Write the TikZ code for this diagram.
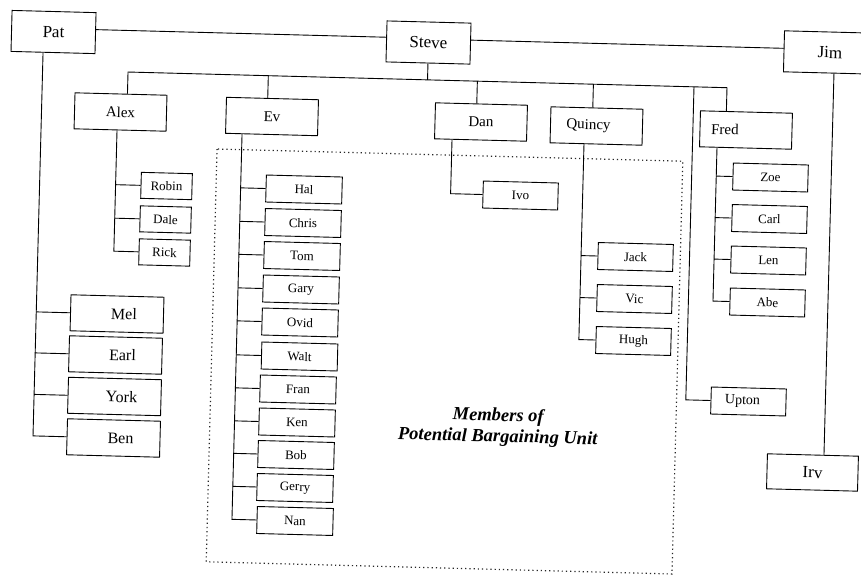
\documentclass[tikz,border=0pt]{standalone}
\usepackage{fontspec}
\setmainfont{Liberation Serif}
\begin{document}
\begin{tikzpicture}[x=1pt,y=-1pt,
  U/.style={rotate around={1.5:(430,288)}},
  box/.style={draw=black, line width=0.9pt, rectangle, inner sep=0pt},
  big/.style={box, minimum width=84pt, minimum height=41pt, font=\fontsize{17}{17}\selectfont},
  mid/.style={box, minimum width=92pt, minimum height=36pt, font=\fontsize{15}{15}\selectfont},
  pch/.style={box, minimum width=93pt, minimum height=36pt, font=\fontsize{16}{16}\selectfont},
  sml/.style={box, minimum width=75pt, minimum height=27pt, font=\fontsize{13}{13}\selectfont},
  tny/.style={box, minimum width=51pt, minimum height=26pt, font=\fontsize{13}{13}\selectfont},
  link/.style={line width=0.9pt, black},
  dots/.style={line width=1.2pt, dash pattern=on 1.2pt off 3pt, black!85}
]
\useasboundingbox (0,0) rectangle (861,576);
\fill[white] (0,0) rectangle (861,576);
\begin{scope}[transform canvas={rotate around={-1.5:(430,288)}}]
% top row
\node[big] (Pat) at ([U]53.5,32) {Pat};
\node[big] (Steve) at ([U]428.5,42.5) {Steve};
\node[big, minimum width=92pt] (Jim) at ([U]830,52.5) {Jim};
% second row
\node[mid] (Alex) at ([U]120.5,112) {Alex};
\node[mid] (Ev) at ([U]272,116.5) {Ev};
\node[mid] (Dan) at ([U]481,122) {Dan};
\node[mid] (Quincy) at ([U]596.5,126) {Quincy\hspace*{16pt}};
\node[mid] (Fred) at ([U]746,130) {Fred\hspace*{42pt}};
% Alex's
\node[tny] (Robin) at ([U]166.5,186) {Robin};
\node[tny] (Dale) at ([U]165.5,219.5) {Dale};
\node[tny] (Rick) at ([U]164.5,252.5) {Rick};
% Pat's
\node[pch] (Mel) at ([U]117,314) {\hspace*{14pt}Mel};
\node[pch] (Earl) at ([U]115.5,355) {\hspace*{14pt}Earl};
\node[pch] (York) at ([U]114.5,396.5) {\hspace*{14pt}York};
\node[pch] (Ben) at ([U]113.5,438) {\hspace*{14pt}Ben};
% Ev's
\node[sml, minimum width=76pt] (Hal) at ([U]304,189.5) {Hal};
\node[sml, minimum width=76pt] (Chris) at ([U]303,223) {Chris};
\node[sml, minimum width=76pt] (Tom) at ([U]302,256) {Tom};
\node[sml, minimum width=76pt] (Gary) at ([U]301,289.5) {Gary};
\node[sml, minimum width=76pt] (Ovid) at ([U]300,322.5) {Ovid};
\node[sml, minimum width=76pt] (Walt) at ([U]299.5,356.5) {Walt};
\node[sml, minimum width=76pt] (Fran) at ([U]298,389.5) {Fran};
\node[sml, minimum width=76pt] (Ken) at ([U]297,422.5) {Ken};
\node[sml, minimum width=76pt] (Bob) at ([U]296,455) {Bob};
\node[sml, minimum width=76pt] (Gerry) at ([U]295,488) {Gerry};
\node[sml, minimum width=76pt] (Nan) at ([U]295,521) {Nan};
% Dan's
\node[sml] (Ivo) at ([U]520.5,195.5) {Ivo};
% Quincy's
\node[sml] (Jack) at ([U]635.5,257) {Jack};
\node[sml] (Vic) at ([U]634.5,299) {Vic};
\node[sml] (Hugh) at ([U]633.5,341) {Hugh};
% Fred's
\node[sml] (Zoe) at ([U]770.5,177.5) {Zoe};
\node[sml] (Carl) at ([U]769.5,219) {Carl};
\node[sml] (Len) at ([U]768.5,260.5) {Len};
\node[sml] (Abe) at ([U]767.5,302.5) {Abe};
\node[sml, font=\fontsize{14}{14}\selectfont] (Upton) at ([U]748.5,401.5) {Upton\hspace*{12pt}};
% Jim's
\node[big, minimum width=91pt, minimum height=35pt] (Irv) at ([U]812.5,472.5) {Irv};
% title
\node[font=\fontsize{18.5}{21}\selectfont\bfseries\itshape, align=center] (title) at ([U]498,427) {Members of\\Potential Bargaining Unit};
% unit frame
\draw[dots] ([U]217,149) rectangle ([U]672,574);
% top links
\coordinate (pl) at ([yshift=3.5pt]Pat.east);
\draw[link] (pl) -- (pl -| Steve.west);
\coordinate (sl) at ([yshift=3.5pt]Steve.east);
\draw[link] (sl) -- (sl -| Jim.west);
% bus under Steve
\coordinate (bA) at ([U]128,72);
\coordinate (bF) at ([U]727,88);
\draw[link] (Alex.north -| bA) -- (bA) -- (bA -| bF) -- (Fred.north -| bF);
\draw[link] (Steve.south) -- (Steve.south |- bA);
\coordinate (dE) at ([U]268,87);
\coordinate (dD) at ([U]477,95);
\coordinate (dQ) at ([U]593,100);
\coordinate (dU) at ([U]690,240);
\draw[link] (dE |- bA) -- (dE |- Ev.north);
\draw[link] (dD |- bA) -- (dD |- Dan.north);
\draw[link] (dQ |- bA) -- (dQ |- Quincy.north);
\draw[link] (dU |- bA) -- (dU |- Upton.west) -- (Upton.west);
% trunks
\coordinate (tP) at ([U]43,53);
\draw[link] (Pat.south -| tP) -- (tP |- Ben.west) -- (Ben.west);
\foreach \n in {Mel,Earl,York} \draw[link] (tP |- \n.west) -- (\n.west);
\coordinate (tA) at ([U]117,130);
\draw[link] (Alex.south -| tA) -- (tA |- Rick.west) -- (Rick.west);
\foreach \n in {Robin,Dale} \draw[link] (tA |- \n.west) -- (\n.west);
\coordinate (tE) at ([U]242,135);
\draw[link] (Ev.south -| tE) -- (tE |- Nan.west) -- (Nan.west);
\foreach \n in {Hal,Chris,Tom,Gary,Ovid,Walt,Fran,Ken,Bob,Gerry} \draw[link] (tE |- \n.west) -- (\n.west);
\coordinate (tD) at ([U]452,140);
\draw[link] (Dan.south -| tD) -- (tD |- Ivo.west) -- (Ivo.west);
\coordinate (tQ) at ([U]584,144);
\draw[link] (Quincy.south -| tQ) -- (tQ |- Hugh.west) -- (Hugh.west);
\foreach \n in {Jack,Vic} \draw[link] (tQ |- \n.west) -- (\n.west);
\coordinate (tF) at ([U]717,148);
\draw[link] (Fred.south -| tF) -- (tF |- Abe.west) -- (Abe.west);
\foreach \n in {Zoe,Carl,Len} \draw[link] (tF |- \n.west) -- (\n.west);
\coordinate (tJ) at ([U]834,73);
\draw[link] (Jim.south -| tJ) -- (tJ |- Irv.north);
\end{scope}
\end{tikzpicture}
\end{document}
